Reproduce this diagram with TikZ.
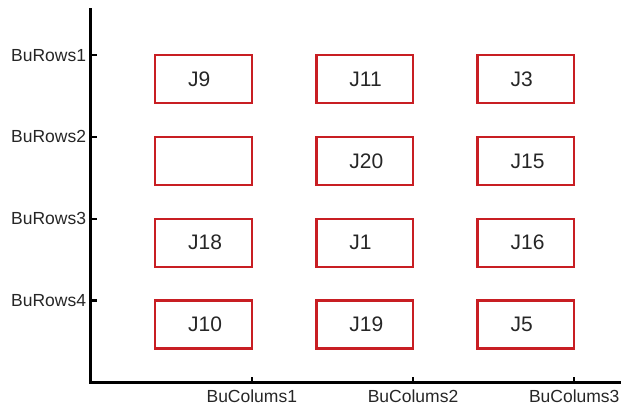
\documentclass[tikz,border=0pt]{standalone}
\usepackage{fontspec}
\setmainfont{Liberation Sans}
\definecolor{slotred}{RGB}{200,30,35}

\begin{document}
\begin{tikzpicture}[x=161.2pt,y=81.8pt,
  slot/.style={draw=slotred,line width=2.4pt},
  jlabel/.style={anchor=west,inner sep=0pt,text=black!85,font=\fontsize{21}{24}\selectfont},
  axlabel/.style={inner sep=0pt,text=black!85,font=\fontsize{17.5}{20}\selectfont}]
  \useasboundingbox (-0.562,-0.314) rectangle (3.290,4.674);

  % axes and ticks
  \draw[line width=2.4pt] (0,4.576) -- (0,0) -- (3.29,0);
  \draw[line width=2.4pt] (0,4) -- +(6pt,0)
    (0,3) -- +(6pt,0)
    (0,2) -- +(6pt,0)
    (0,1) -- +(6pt,0);
  \draw[line width=2.4pt] (1,0) -- +(0,5pt)
    (2,0) -- +(0,5pt)
    (3,0) -- +(0,5pt);

  \node[axlabel,anchor=east,xshift=-4.4pt] (r1) at (0,4) {BuRows1};
  \node[axlabel,anchor=east,xshift=-4.4pt] (r2) at (0,3) {BuRows2};
  \node[axlabel,anchor=east,xshift=-4.4pt] (r3) at (0,2) {BuRows3};
  \node[axlabel,anchor=east,xshift=-4.4pt] (r4) at (0,1) {BuRows4};

  \node[axlabel,anchor=base,yshift=-20.5pt] (c1) at (1,0) {BuColums1};
  \node[axlabel,anchor=base,yshift=-20.5pt] (c2) at (2,0) {BuColums2};
  \node[axlabel,anchor=base,yshift=-20.5pt] (c3) at (3,0) {BuColums3};

  % slots, first row
  \draw[slot] (1,4) rectangle ++(-0.6,-0.587);
  \draw[slot] (2,4) rectangle ++(-0.6,-0.587);
  \draw[slot] (3,4) rectangle ++(-0.6,-0.587);
  \node[jlabel] (j9) at (0.604,3.7065) {J9};
  \node[jlabel] (j11) at (1.604,3.7065) {J11};
  \node[jlabel] (j3) at (2.604,3.7065) {J3};

  % second row
  \draw[slot] (1,3) rectangle ++(-0.6,-0.587);
  \draw[slot] (2,3) rectangle ++(-0.6,-0.587);
  \draw[slot] (3,3) rectangle ++(-0.6,-0.587);
  \node[jlabel] (j20) at (1.604,2.7065) {J20};
  \node[jlabel] (j15) at (2.604,2.7065) {J15};

  % third row
  \draw[slot] (1,2) rectangle ++(-0.6,-0.587);
  \draw[slot] (2,2) rectangle ++(-0.6,-0.587);
  \draw[slot] (3,2) rectangle ++(-0.6,-0.587);
  \node[jlabel] (j18) at (0.604,1.7065) {J18};
  \node[jlabel] (j1) at (1.604,1.7065) {J1};
  \node[jlabel] (j16) at (2.604,1.7065) {J16};

  % fourth row
  \draw[slot] (1,1) rectangle ++(-0.6,-0.587);
  \draw[slot] (2,1) rectangle ++(-0.6,-0.587);
  \draw[slot] (3,1) rectangle ++(-0.6,-0.587);
  \node[jlabel] (j10) at (0.604,0.7065) {J10};
  \node[jlabel] (j19) at (1.604,0.7065) {J19};
  \node[jlabel] (j5) at (2.604,0.7065) {J5};
\end{tikzpicture}
\end{document}
